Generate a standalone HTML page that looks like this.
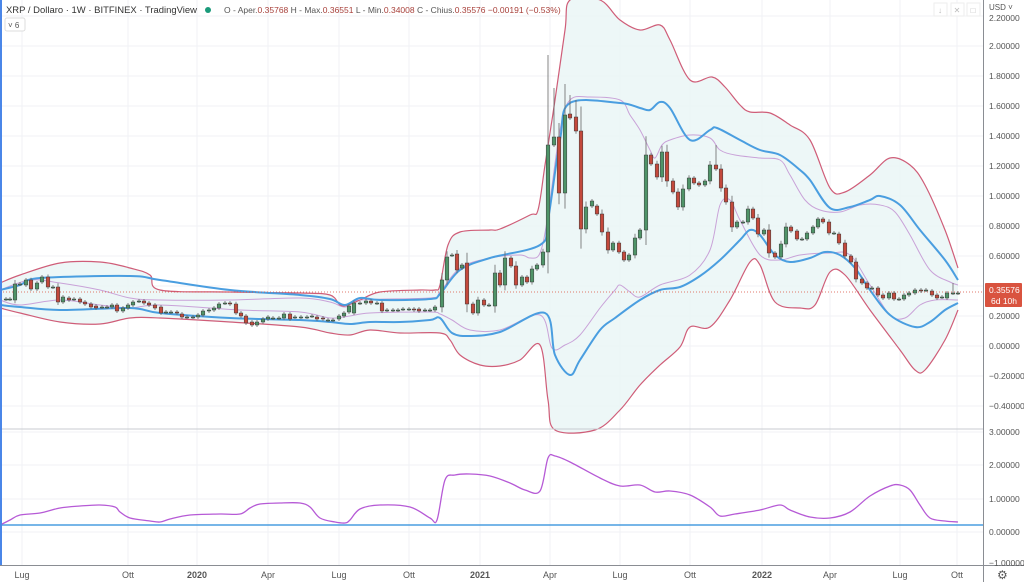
<!DOCTYPE html>
<html><head><meta charset="utf-8"><style>
body{margin:0;background:#fff;width:1024px;height:582px;overflow:hidden;font-family:"Liberation Sans",sans-serif}
svg{position:absolute;left:0;top:0}
</style></head><body>
<svg id="s" width="1024" height="582" viewBox="0 0 1024 582" font-family="Liberation Sans, sans-serif"></svg>
<script>
const NS="http://www.w3.org/2000/svg",S=document.getElementById('s');
function el(t,a,txt){const e=document.createElementNS(NS,t);for(const k in a)e.setAttribute(k,a[k]);if(txt!==undefined)e.textContent=txt;S.appendChild(e);return e;}
function smooth(p,start){let d=start?'':'M'+p[0][0]+','+p[0][1];if(start)d='L'+p[0][0]+','+p[0][1];for(let i=0;i<p.length-1;i++){const p0=p[Math.max(0,i-1)],p1=p[i],p2=p[i+1],p3=p[Math.min(p.length-1,i+2)];const c1x=p1[0]+(p2[0]-p0[0])/6,c1y=p1[1]+(p2[1]-p0[1])/6,c2x=p2[0]-(p3[0]-p1[0])/6,c2y=p2[1]-(p3[1]-p1[1])/6;d+=' C'+c1x.toFixed(1)+','+c1y.toFixed(1)+' '+c2x.toFixed(1)+','+c2y.toFixed(1)+' '+p2[0]+','+p2[1];}return d;}
// grid
for(let v=-0.4;v<=2.21;v+=0.2){const y=346-150*v;el('line',{x1:0,x2:983,y1:y,y2:y,stroke:'#f0f2f5'});}
[432,465,499,532].forEach(y=>el('line',{x1:0,x2:983,y1:y,y2:y,stroke:'#f0f2f5'}));
const tl=[[22,'Lug'],[128,'Ott'],[197,'2020'],[268,'Apr'],[339,'Lug'],[409,'Ott'],[480,'2021'],[550,'Apr'],[620,'Lug'],[690,'Ott'],[762,'2022'],[830,'Apr'],[900,'Lug'],[957,'Ott']];
tl.forEach(t=>{el('line',{x1:t[0],x2:t[0],y1:0,y2:565,stroke:'#f0f2f5'});el('text',{x:t[0],y:578,'font-size':9,fill:'#555','text-anchor':'middle','font-weight':/^20/.test(t[1])?'bold':'normal'},t[1]);});
const ru=[[0,283],[20,275],[60,263],[100,262],[130,268],[150,275],[160,290],[230,292],[300,293],[330,295],[340,305],[348,305],[360,300],[380,292],[420,290],[435,290],[440,285],[448,245],[460,232],[490,230],[500,229],[530,215],[538,210],[545,165],[555,100],[565,30],[570,0],[600,0],[620,20],[640,30],[660,25],[670,40],[690,80],[712,77],[725,87],[740,105],[750,112],[770,113],[790,125],[810,140],[830,188],[845,192],[870,175],[890,158],[910,165],[925,185],[945,230],[958,268]];
const rl=[[0,308],[20,313],[60,322],[100,324],[130,318],[160,318],[230,322],[300,327],[330,333],[350,335],[370,330],[400,333],[440,333],[450,340],[460,355],[480,365],[500,366],[520,360],[540,345],[548,400],[555,430],[595,430],[620,410],[640,385],[660,365],[680,347],[690,327],[710,327],[730,300],[750,262],[760,265],[775,302],[800,308],[815,305],[830,272],[845,275],[870,310],[900,350],[915,370],[925,370],[945,340],[958,310]];
el('path',{d:smooth(ru)+' '+smooth(rl.slice().reverse(),true)+' Z',fill:'#e9f5f5',opacity:0.8});
const bu=[[0,290],[20,285],[40,278],[130,276],[160,280],[230,290],[300,295],[330,299],[345,305],[360,298],[380,300],[430,299],[440,294],[460,270],[490,258],[540,245],[548,220],[560,140],[570,103],[620,103],[640,108],[650,110],[660,102],[670,108],[690,140],[710,130],[717,128],[740,140],[760,150],[780,155],[800,170],[810,180],[830,208],[850,207],[870,200],[880,196],[900,205],[920,230],[945,260],[958,280]];
const bl=[[0,305],[20,307],[60,310],[130,308],[160,313],[230,318],[300,320],[330,322],[350,324],[370,322],[400,322],[430,320],[440,318],[452,333],[470,336],[500,332],[545,313],[555,355],[570,375],[580,360],[600,330],[615,318],[640,300],[660,290],[680,287],[700,276],[720,260],[740,240],[750,230],[760,235],[775,255],[790,262],[810,258],[825,252],[840,255],[855,268],[870,290],[890,315],[915,327],[930,322],[945,310],[958,303]];
const pu=[[0,290],[30,280],[60,283],[100,290],[130,298],[160,300],[230,300],[300,298],[330,302],[345,307],[360,300],[430,298],[440,292],[460,268],[490,258],[520,255],[530,258],[540,253],[548,215],[560,130],[570,100],[590,97],[620,100],[630,115],[640,130],[650,150],[655,158],[662,145],[670,140],[690,135],[710,138],[720,150],[735,155],[760,158],[780,160],[790,175],[805,200],[820,210],[840,212],[860,205],[880,205],[895,212],[910,235],[930,270],[950,282],[958,285]];
const pl=[[0,300],[20,305],[60,300],[100,305],[130,308],[160,305],[240,310],[300,312],[330,318],[350,316],[370,313],[430,312],[440,314],[452,320],[470,330],[500,330],[540,315],[552,348],[565,345],[580,335],[600,308],[615,290],[620,285],[630,292],[640,297],[660,285],[690,275],[710,250],[720,205],[730,200],[740,220],[760,255],[780,260],[800,255],[830,253],[850,255],[870,285],[890,315],[905,318],[920,305],[935,300],[958,300]];
[[pu,'#c9a2d8',1],[pl,'#c9a2d8',1],[ru,'#cf5d78',1.2],[rl,'#cf5d78',1.2],[bu,'#4a9ee0',2],[bl,'#4a9ee0',2]].forEach(c=>el('path',{d:smooth(c[0]),fill:'none',stroke:c[1],'stroke-width':c[2]}));
el('line',{x1:0,x2:983,y1:292,y2:292,stroke:'#d94f3d','stroke-dasharray':'1,2','stroke-width':0.8});
const C=[[6,299,299],[10,299,299],[15,300,284],[20,284,284],[26,285,280],[31,280,289],[37,289,283],[42,282,277],[48,277,287],[53,287,287],[58,287,302],[63,302,297],[69,298,300],[74,299,299],[80,299,302],[85,302,304],[91,304,307],[96,306,308],[102,307,307],[107,307,307],[112,307,305],[117,305,311],[123,311,308],[128,308,305],[133,305,302],[139,301,301],[144,301,303],[149,303,305],[155,305,308],[161,307,313],[166,312,312],[171,312,312],[177,312,313],[182,314,317],[187,317,317],[193,317,317],[198,317,315],[203,315,311],[209,311,310],[214,310,308],[219,308,304],[225,303,303],[230,303,304],[236,304,313],[241,313,316],[246,316,323],[252,322,325],[257,325,322],[263,322,319],[268,319,317],[273,318,318],[279,318,318],[284,318,314],[290,314,319],[295,317,317],[301,317,317],[307,317,317],[312,316,316],[317,317,319],[323,318,319],[328,320,320],[333,320,320],[339,319,316],[344,316,313],[349,312,306],[354,313,303],[360,303,303],[366,303,301],[371,301,303],[377,303,303],[382,303,311],[387,310,310],[393,310,310],[398,310,310],[403,309,309],[409,309,309],[414,309,310],[419,309,311],[425,310,310],[430,310,310],[435,310,307],
[442,307,280],[447,280,257],[452,255,255],[457,254,270],[462,268,265],[467,263,304],[473,304,313],[478,313,300],[484,300,305],[489,305,305],[495,306,273],[500,273,285],[505,285,258],[511,258,266],[516,266,285],[522,285,277],[527,277,282],[532,282,269],[537,269,265],[543,265,252],[548,252,145,55],[554,145,137,88],[559,137,193],[565,193,115,84],[570,114,118,95],[576,117,131,100],[581,131,229],[586,229,207],[592,206,201],[597,206,214],[602,214,232],[608,232,250],[613,250,243],[619,243,252],[624,252,260],[629,260,255],[635,255,238],[640,238,230],[646,230,155],[651,155,164],[657,164,177],[662,177,152],[667,152,181],[673,181,192],[678,192,207],[683,207,189],[689,189,178],[694,178,183],[699,183,185],[705,185,181],[710,181,165],[716,165,169,145],[721,169,188],[726,188,202],[732,202,227],[737,227,222],[743,222,222],[748,222,209],[753,209,218],[758,218,234],[764,234,230],[769,230,253],[775,253,257],[781,257,244],[786,244,227],[791,227,231],[797,231,239],[802,239,239],[807,239,233],[813,233,227],[818,227,219],[823,219,222],[829,222,233],[834,233,233],[839,234,243],[845,243,256],[851,256,262],[856,262,279],[862,279,283],[867,283,288],[872,288,288],[878,288,295],[883,295,298],[889,298,293],[894,293,299],[899,299,299],[904,299,295],[909,295,293],[915,293,290],[921,290,291],[926,290,290],[932,291,295],[937,295,298],[942,297,297],[947,298,293],[953,293,293,283],[958,293,293]];
C.forEach(c=>{const[x,o,cl,h]=c;const up=cl<=o;const col=up?'#4f9468':'#c4493c';const top=Math.min(o,cl),bot=Math.max(o,cl);const d=bot-top;const hi=h!==undefined?h:top-Math.max(2,d*0.25);const lo=bot+Math.max(2,d*0.2);
el('line',{x1:x,x2:x,y1:hi,y2:lo,stroke:'#666','stroke-width':0.8});
el('rect',{x:x-1.8,y:top,width:3.6,height:Math.max(1,d),fill:col,stroke:'#3a3a3a','stroke-width':0.5});});
el('line',{x1:0,x2:983,y1:429,y2:429,stroke:'#c8cbd0'});
el('line',{x1:0,x2:983,y1:525,y2:525,stroke:'#4a9ee0','stroke-width':1.5});
const lp=[[0,525],[10,520],[20,515],[40,513],[60,508],[80,506],[100,505],[115,507],[120,512],[130,518],[150,521],[160,522],[170,519],[190,515],[220,514],[240,514],[250,508],[260,504],[280,503],[300,503],[310,507],[320,518],[335,522],[345,523],[350,520],[360,509],[380,505],[410,507],[430,518],[437,520],[445,480],[455,475],[470,474],[490,476],[510,483],[525,490],[540,491],[548,458],[555,456],[570,462],[600,478],[620,486],[640,485],[655,492],[670,491],[690,495],[710,507],[720,516],[735,514],[760,510],[780,505],[790,510],[810,517],[830,518],[850,512],[870,496],[890,486],[900,485],[910,490],[920,505],[930,518],[945,521],[958,522]];
el('path',{d:smooth(lp),fill:'none',stroke:'#b65ad6','stroke-width':1.3});
el('line',{x1:0,x2:1024,y1:565.5,y2:565.5,stroke:'#8a8d93'});
el('line',{x1:983.5,x2:983.5,y1:0,y2:582,stroke:'#8a8d93'});
el('line',{x1:1,x2:1,y1:0,y2:565,stroke:'#4a86e8','stroke-width':2});
for(let i=-2;i<=11;i++){const v=i*0.2;let y=346-150*v;if(i==11)y=18;el('text',{x:989,y:y+3,'font-size':8.5,fill:'#555'},(v<0?'\u22120.'+Math.abs(v).toFixed(5).slice(2):v.toFixed(5)));}
el('text',{x:989,y:10,'font-size':8,fill:'#555'},'USD \u02c5');
[[3,432],[2,465],[1,499],[0,532]].forEach(a=>el('text',{x:989,y:a[1]+3,'font-size':8.5,fill:'#555'},a[0].toFixed(5)));
el('text',{x:989,y:566,'font-size':8.5,fill:'#555'},'\u22121.00000');
el('rect',{x:985,y:283,width:37,height:24,fill:'#d9533f',rx:1});
el('text',{x:989,y:293,'font-size':8.5,fill:'#fff'},'0.35576');
el('text',{x:991,y:304,'font-size':8.5,fill:'#fff'},'6d 10h');
el('text',{x:997,y:579,'font-size':12,fill:'#555'},'\u2699');
el('text',{x:6,y:13,'font-size':9.6,fill:'#333',textLength:191,lengthAdjust:'spacingAndGlyphs'},'XRP / Dollaro · 1W · BITFINEX · TradingView');
el('circle',{cx:208,cy:10,r:3,fill:'#1a9a7a'});
const h=el('text',{x:224,y:13,'font-size':8.5,fill:'#555'});
[['O - Aper.',0],['0.35768 ',1],['H - Max.',0],['0.36551 ',1],['L - Min.',0],['0.34008 ',1],['C - Chius.',0],['0.35576 \u22120.00191 (\u22120.53%)',1]].forEach(p=>{const t=document.createElementNS(NS,'tspan');t.textContent=p[0];if(p[1])t.setAttribute('fill','#a8403a');h.appendChild(t);});
el('rect',{x:5,y:18,width:20,height:13,fill:'#fff',stroke:'#ddd',rx:2});
el('text',{x:8,y:28,'font-size':8,fill:'#555'},'\u02c5 6');
[[940,'\u2193'],[957,'\u2715'],[973,'\u25a1']].forEach(b=>{el('rect',{x:b[0]-6,y:3,width:13,height:13,fill:'#fff',stroke:'#eee'});el('text',{x:b[0],y:13,'font-size':8,fill:'#bbb','text-anchor':'middle'},b[1]);});
</script>
</body></html>
